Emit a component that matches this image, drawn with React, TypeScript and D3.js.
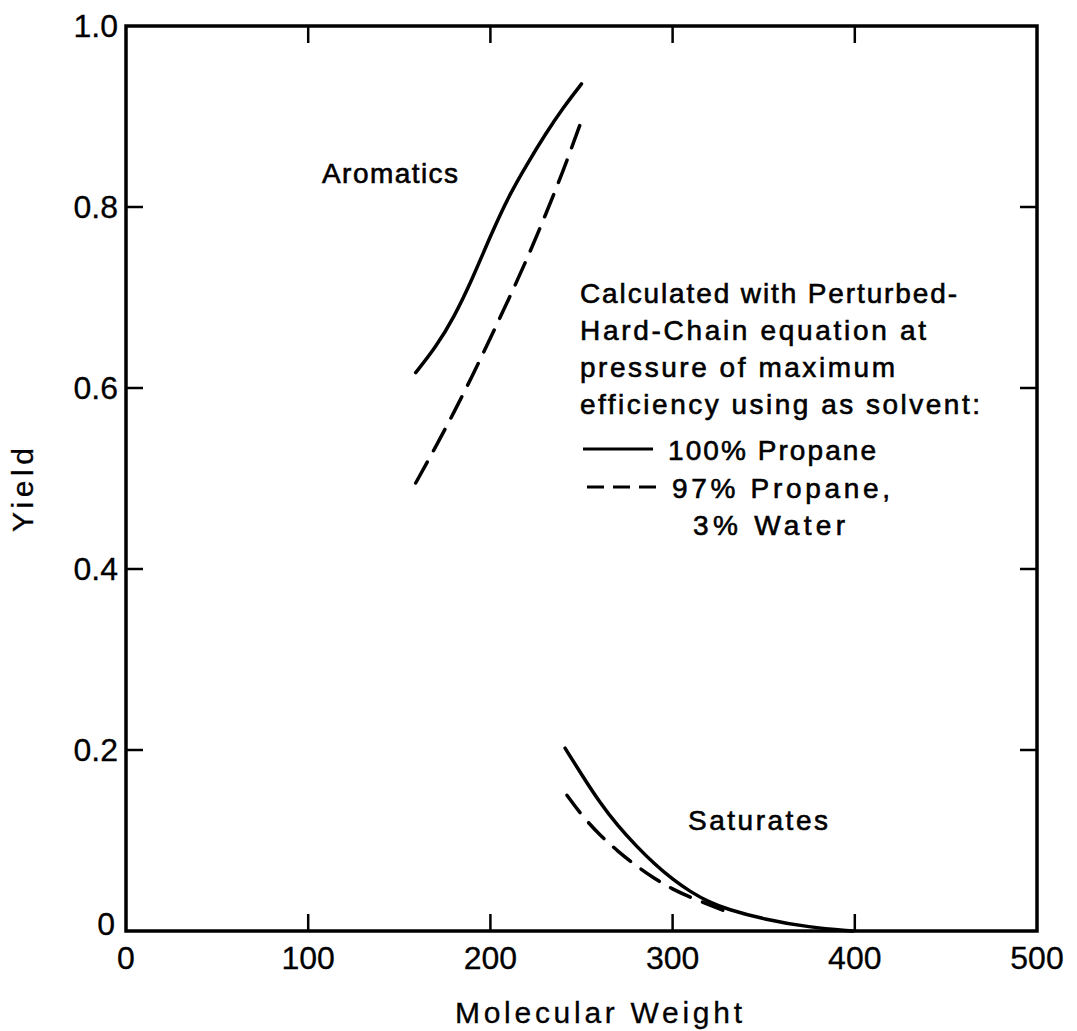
import React from "react";
import * as d3 from "d3";

// values
const xTicks = [0, 100, 200, 300, 400, 500];
const xTickLabels = ["0", "100", "200", "300", "400", "500"];
const yTicks = [0, 0.2, 0.4, 0.6, 0.8, 1.0];
const yTickLabels = ["0", "0.2", "0.4", "0.6", "0.8", "1.0"];

const aromSolidMW = [159, 170, 180, 190, 200, 210, 220, 230, 240, 250];
const aromSolidYield = [0.617, 0.645, 0.678, 0.72, 0.768, 0.812, 0.847, 0.88, 0.91, 0.936];

const aromDashMW = [159, 170, 180, 190, 200, 210, 220, 230, 240, 249];
const aromDashYield = [0.495, 0.535, 0.573, 0.613, 0.655, 0.698, 0.742, 0.79, 0.84, 0.89];

const satSolidMW = [241, 250, 260, 270, 280, 290, 300, 310, 320, 330, 350, 375, 399];
const satSolidYield = [0.202, 0.173, 0.142, 0.116, 0.094, 0.074, 0.057, 0.043, 0.032, 0.024, 0.013, 0.004, 0.0];

const satDashMW = [242, 250, 260, 270, 280, 290, 300, 310, 320, 329];
const satDashYield = [0.15, 0.128, 0.106, 0.088, 0.072, 0.058, 0.046, 0.037, 0.029, 0.022];

const legendNote = [
  "Calculated with Perturbed-",
  "Hard-Chain equation at",
  "pressure of maximum",
  "efficiency using as solvent:",
];
const legendNoteWidths = [377, 346, 315, 400];

const W = 1077;
const H = 1031;
const FONT = "'Liberation Sans', Arial, sans-serif";

const x = d3.scaleLinear().domain([0, 500]).range([126, 1037]);
const y = d3.scaleLinear().domain([0, 1]).range([931, 26]);

const zip = (a: number[], b: number[]) => a.map((v, i) => [v, b[i]] as [number, number]);

const line = d3
  .line<[number, number]>()
  .x((d) => x(d[0]))
  .y((d) => y(d[1]))
  .curve(d3.curveBasis);

const txt = { fill: "#000", stroke: "#000", strokeWidth: 0.6 };

const App = () => {
  const tickLen = 17;
  const inner = xTicks.slice(1, -1);
  const innerY = yTicks.slice(1, -1);

  return (
    <svg
      width={W}
      height={H}
      style={{ position: "absolute", left: 0, top: 0, background: "#fff" }}
      fontFamily={FONT}
    >
      {/* frame */}
      <rect
        x={x(0)}
        y={y(1)}
        width={x(500) - x(0)}
        height={y(0) - y(1)}
        fill="none"
        stroke="#000"
        strokeWidth={3.5}
      />
      {/* inward ticks on all four sides */}
      {inner.map((t) => (
        <g key={"xt" + t} stroke="#000" strokeWidth={2.5}>
          <line x1={x(t)} x2={x(t)} y1={y(0)} y2={y(0) - tickLen} />
          <line x1={x(t)} x2={x(t)} y1={y(1)} y2={y(1) + tickLen} />
        </g>
      ))}
      {innerY.map((t) => (
        <g key={"yt" + t} stroke="#000" strokeWidth={2.5}>
          <line x1={x(0)} x2={x(0) + tickLen} y1={y(t)} y2={y(t)} />
          <line x1={x(500)} x2={x(500) - tickLen} y1={y(t)} y2={y(t)} />
        </g>
      ))}

      {/* tick labels */}
      {xTicks.map((t, i) => (
        <text key={"xl" + t} x={x(t)} y={969} textAnchor="middle" fontSize={32} {...txt} strokeWidth={0.3}>
          {xTickLabels[i]}
        </text>
      ))}
      {yTicks.map((t, i) => (
        <text
          key={"yl" + t}
          x={t === 0 ? 115 : 118}
          y={y(t) + (t === 0 ? 4 : 11)}
          textAnchor="end"
          fontSize={32}
          {...txt}
          strokeWidth={0.3}
        >
          {yTickLabels[i]}
        </text>
      ))}

      {/* axis titles */}
      <text x={455} y={1023} fontSize={30} {...txt} strokeWidth={0.3} textLength={287} lengthAdjust="spacing">
        Molecular Weight
      </text>
      <text
        transform="translate(33,532) rotate(-90)"
        fontSize={30}
        {...txt}
        strokeWidth={0.3}
        textLength={84}
        lengthAdjust="spacing"
      >
        Yield
      </text>

      {/* curves */}
      <g fill="none" stroke="#000" strokeWidth={3.5} strokeLinecap="round">
        <path d={line(zip(aromSolidMW, aromSolidYield)) || ""} />
        <path d={line(zip(aromDashMW, aromDashYield)) || ""} strokeDasharray="24 13" />
        <path d={line(zip(satSolidMW, satSolidYield)) || ""} />
        <path d={line(zip(satDashMW, satDashYield)) || ""} strokeDasharray="22 13" />
      </g>

      {/* series labels */}
      <text x={322} y={183} fontSize={28} {...txt} textLength={136} lengthAdjust="spacing">
        Aromatics
      </text>
      <text x={688} y={830} fontSize={28} {...txt} textLength={140} lengthAdjust="spacing">
        Saturates
      </text>

      {/* note + legend */}
      {legendNote.map((s, i) => (
        <text
          key={s}
          x={580}
          y={303 + i * 37}
          fontSize={28}
          {...txt}
          textLength={legendNoteWidths[i]}
          lengthAdjust="spacing"
        >
          {s}
        </text>
      ))}
      <line x1={583} x2={653} y1={449} y2={449} stroke="#000" strokeWidth={3} />
      <text x={668} y={460} fontSize={28} {...txt} textLength={208} lengthAdjust="spacing">
        100% Propane
      </text>
      <line x1={587} x2={657} y1={487} y2={487} stroke="#000" strokeWidth={3} strokeDasharray="17 9" />
      <text x={672} y={498} fontSize={28} {...txt} textLength={218} lengthAdjust="spacing">
        97% Propane,
      </text>
      <text x={693} y={535} fontSize={28} {...txt} textLength={152} lengthAdjust="spacing">
        3% Water
      </text>
    </svg>
  );
};

export default App;
